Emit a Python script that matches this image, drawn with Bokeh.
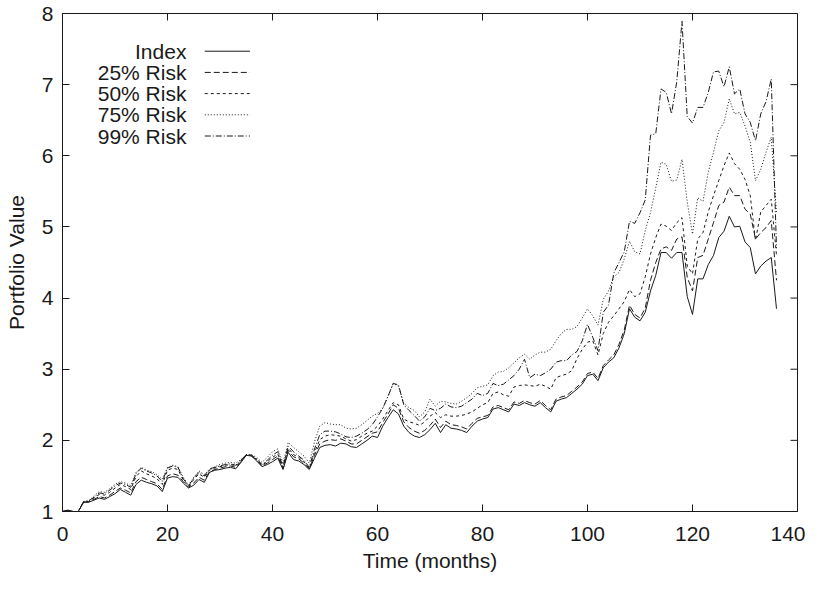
from bokeh.plotting import figure
from bokeh.models import Range1d, FixedTicker, Label, Arrow
from bokeh.embed import file_html
from bokeh.resources import INLINE

months = list(range(137))

index_vals = [
    1.00, 1.02, 1.00, 1.00, 1.13, 1.13, 1.16, 1.19, 1.17, 1.21,
    1.25, 1.31, 1.27, 1.23, 1.38, 1.44, 1.41, 1.39, 1.36, 1.28,
    1.47, 1.49, 1.48, 1.40, 1.33, 1.37, 1.45, 1.41, 1.55, 1.58,
    1.59, 1.61, 1.62, 1.60, 1.69, 1.79, 1.78, 1.71, 1.63, 1.66,
    1.70, 1.75, 1.59, 1.83, 1.73, 1.71, 1.66, 1.59, 1.75, 1.90,
    1.93, 1.94, 1.92, 1.96, 1.95, 1.91, 1.90, 1.95, 2.00, 2.06,
    2.04, 2.20, 2.32, 2.43, 2.37, 2.20, 2.11, 2.06, 2.04, 2.08,
    2.15, 2.24, 2.11, 2.22, 2.17, 2.16, 2.14, 2.11, 2.20, 2.27,
    2.30, 2.32, 2.44, 2.46, 2.43, 2.40, 2.51, 2.49, 2.53, 2.50,
    2.48, 2.53, 2.46, 2.40, 2.55, 2.58, 2.60, 2.66, 2.72, 2.79,
    2.91, 2.93, 2.84, 3.02, 3.10, 3.16, 3.30, 3.50, 3.85, 3.73,
    3.68, 3.80, 4.10, 4.32, 4.64, 4.64, 4.56, 4.64, 4.64, 4.02,
    3.77, 4.27, 4.27, 4.47, 4.60, 4.85, 4.94, 5.15, 5.00, 5.01,
    4.79, 4.71, 4.34, 4.45, 4.52, 4.57, 3.85,
]

risk25_vals = [
    1.00, 1.01, 1.00, 1.00, 1.13, 1.14, 1.17, 1.21, 1.19, 1.23,
    1.28, 1.33, 1.30, 1.26, 1.42, 1.48, 1.45, 1.42, 1.39, 1.31,
    1.50, 1.53, 1.51, 1.42, 1.34, 1.40, 1.48, 1.44, 1.56, 1.59,
    1.61, 1.63, 1.64, 1.62, 1.70, 1.79, 1.78, 1.72, 1.64, 1.68,
    1.73, 1.78, 1.60, 1.86, 1.77, 1.74, 1.68, 1.60, 1.79, 1.95,
    1.99, 2.01, 2.00, 2.02, 1.99, 1.95, 1.95, 2.00, 2.05, 2.10,
    2.12, 2.25, 2.37, 2.50, 2.45, 2.26, 2.18, 2.13, 2.10, 2.14,
    2.21, 2.30, 2.18, 2.27, 2.22, 2.21, 2.19, 2.16, 2.24, 2.31,
    2.33, 2.35, 2.47, 2.49, 2.46, 2.43, 2.54, 2.52, 2.56, 2.53,
    2.51, 2.56, 2.49, 2.43, 2.58, 2.61, 2.63, 2.69, 2.75, 2.82,
    2.94, 2.96, 2.87, 3.05, 3.13, 3.20, 3.35, 3.55, 3.90, 3.77,
    3.72, 3.86, 4.25, 4.50, 4.69, 4.72, 4.67, 4.83, 4.86, 4.29,
    4.10, 4.57, 4.60, 4.83, 5.06, 5.30, 5.35, 5.56, 5.44, 5.44,
    5.25, 5.18, 4.83, 4.92, 4.99, 5.09, 4.25,
]

risk50_vals = [
    1.00, 1.01, 1.00, 1.00, 1.13, 1.14, 1.19, 1.24, 1.23, 1.27,
    1.33, 1.38, 1.35, 1.31, 1.49, 1.57, 1.53, 1.50, 1.46, 1.38,
    1.58, 1.61, 1.59, 1.44, 1.35, 1.45, 1.53, 1.48, 1.58, 1.61,
    1.63, 1.65, 1.66, 1.64, 1.71, 1.80, 1.79, 1.73, 1.65, 1.70,
    1.76, 1.81, 1.62, 1.89, 1.80, 1.76, 1.70, 1.60, 1.83, 2.01,
    2.06, 2.08, 2.07, 2.06, 2.02, 1.99, 2.01, 2.06, 2.10, 2.13,
    2.20, 2.30, 2.42, 2.53, 2.50, 2.30, 2.26, 2.24, 2.21, 2.26,
    2.34, 2.39, 2.32, 2.36, 2.34, 2.34, 2.35, 2.37, 2.40, 2.45,
    2.50, 2.53, 2.66, 2.68, 2.64, 2.62, 2.75, 2.77, 2.78, 2.77,
    2.76, 2.79, 2.76, 2.72, 2.88, 2.91, 2.93, 2.98, 3.15, 3.28,
    3.38, 3.40, 3.20, 3.50, 3.66, 3.75, 3.85, 3.95, 4.12, 4.02,
    4.06, 4.30, 4.62, 4.85, 5.04, 5.01, 4.95, 5.06, 5.13, 4.45,
    4.34, 4.83, 4.92, 5.21, 5.44, 5.65, 5.86, 6.04, 5.89, 5.81,
    5.67, 5.44, 4.81, 5.21, 5.30, 5.39, 4.60,
]

risk75_vals = [
    1.00, 1.01, 1.00, 1.00, 1.14, 1.15, 1.22, 1.28, 1.27, 1.32,
    1.38, 1.42, 1.40, 1.36, 1.55, 1.62, 1.58, 1.56, 1.52, 1.45,
    1.62, 1.65, 1.63, 1.48, 1.37, 1.48, 1.57, 1.52, 1.58, 1.63,
    1.66, 1.68, 1.69, 1.68, 1.73, 1.80, 1.80, 1.76, 1.69, 1.76,
    1.84, 1.88, 1.68, 1.97, 1.90, 1.84, 1.78, 1.68, 1.98, 2.20,
    2.25, 2.23, 2.22, 2.22, 2.17, 2.16, 2.17, 2.22, 2.28, 2.34,
    2.38, 2.45, 2.62, 2.80, 2.76, 2.52, 2.46, 2.42, 2.33, 2.40,
    2.58, 2.48, 2.55, 2.54, 2.52, 2.51, 2.55, 2.60, 2.66, 2.74,
    2.76, 2.78, 2.91, 2.96, 2.97, 3.02, 3.09, 3.16, 3.21, 3.14,
    3.20, 3.24, 3.24, 3.28, 3.40, 3.50, 3.56, 3.56, 3.60, 3.72,
    3.85, 3.75, 3.62, 3.98, 4.10, 4.30, 4.36, 4.55, 4.80, 4.65,
    4.62, 4.95, 5.20, 5.55, 5.91, 5.88, 5.64, 5.66, 5.95, 5.35,
    4.90, 5.41, 5.36, 5.77, 6.05, 6.35, 6.47, 6.80, 6.59, 6.61,
    6.42, 6.19, 5.65, 5.81, 6.05, 6.26, 5.20,
]

risk99_vals = [
    1.00, 1.01, 1.00, 1.00, 1.14, 1.15, 1.20, 1.26, 1.25, 1.30,
    1.36, 1.40, 1.38, 1.34, 1.53, 1.61, 1.57, 1.54, 1.50, 1.42,
    1.61, 1.64, 1.62, 1.46, 1.36, 1.47, 1.55, 1.50, 1.60, 1.62,
    1.64, 1.66, 1.67, 1.65, 1.72, 1.80, 1.79, 1.74, 1.66, 1.72,
    1.79, 1.84, 1.63, 1.92, 1.84, 1.78, 1.72, 1.62, 1.88, 2.08,
    2.13, 2.13, 2.12, 2.09, 2.05, 2.04, 2.06, 2.10, 2.15, 2.22,
    2.33, 2.45, 2.62, 2.80, 2.78, 2.50, 2.42, 2.35, 2.27, 2.33,
    2.45, 2.42, 2.45, 2.51, 2.47, 2.46, 2.48, 2.53, 2.58, 2.66,
    2.63, 2.66, 2.80, 2.77, 2.79, 2.85, 2.91, 3.00, 3.14, 2.88,
    2.93, 2.91, 2.95, 3.00, 3.10, 3.12, 3.12, 3.20, 3.25, 3.40,
    3.63, 3.45, 3.26, 3.80, 3.90, 4.35, 4.50, 4.65, 5.08, 5.05,
    5.20, 5.38, 6.29, 6.31, 6.94, 6.89, 6.59, 7.04, 7.89, 6.55,
    6.46, 6.68, 6.68, 6.89, 7.18, 7.19, 6.97, 7.25, 6.87, 6.94,
    6.59, 6.47, 6.21, 6.59, 6.76, 7.08, 4.70,
]

series_names = ["Index", "25% Risk", "50% Risk", "75% Risk", "99% Risk"]
series_vals = [index_vals, risk25_vals, risk50_vals, risk75_vals, risk99_vals]
dashes = ["solid", "6 3", "3 3", "1 2", "6 2 1 2"]

x_ticks = [0, 20, 40, 60, 80, 100, 120, 140]
y_ticks = [1, 2, 3, 4, 5, 6, 7, 8]
x_lo, x_hi = 0, 140
y_lo, y_hi = 1, 8

FONT = "Liberation Sans"
FS = "21px"
INK = "#1a1a1a"
TICK_PX = 7

W, H = 805, 574
B_LEFT, B_RIGHT, B_TOP, B_BOTTOM = 62, 8, 13, 62

p = figure(width=W, height=H, output_backend="svg", toolbar_location=None,
           x_range=Range1d(x_lo, x_hi), y_range=Range1d(y_lo, y_hi),
           min_border_left=B_LEFT, min_border_right=B_RIGHT,
           min_border_top=B_TOP, min_border_bottom=B_BOTTOM)
p.background_fill_color = "white"
p.border_fill_color = "white"
p.grid.visible = False
p.outline_line_color = INK
p.outline_line_width = 1

for ax in (p.xaxis[0], p.yaxis[0]):
    ax.major_tick_in = TICK_PX
    ax.major_tick_out = 0
    ax.minor_tick_in = 0
    ax.minor_tick_out = 0
    ax.axis_line_color = INK
    ax.major_tick_line_color = INK
    ax.major_label_text_font = FONT
    ax.major_label_text_font_size = FS
    ax.major_label_text_color = INK
    ax.axis_label_text_font = FONT
    ax.axis_label_text_font_size = FS
    ax.axis_label_text_font_style = "normal"
    ax.axis_label_text_color = INK

p.xaxis.ticker = FixedTicker(ticks=x_ticks)
p.yaxis.ticker = FixedTicker(ticks=y_ticks)
p.xaxis.axis_label = "Time (months)"
p.yaxis.axis_label = "Portfolio Value"
p.xaxis.major_label_standoff = 15
p.xaxis.axis_label_standoff = 5
p.yaxis.major_label_standoff = 9
p.yaxis.axis_label_standoff = 11

# mirrored inward ticks on top and right edges of the frame
frame_w_px = W - B_LEFT - B_RIGHT
frame_h_px = H - B_TOP - B_BOTTOM
dy_tick = TICK_PX * (y_hi - y_lo) / frame_h_px
dx_tick = TICK_PX * (x_hi - x_lo) / frame_w_px
p.segment(x0=x_ticks, y0=[y_hi] * len(x_ticks), x1=x_ticks, y1=[y_hi - dy_tick] * len(x_ticks),
          line_color=INK, line_width=1)
p.segment(x0=[x_hi] * len(y_ticks), y0=y_ticks, x1=[x_hi - dx_tick] * len(y_ticks), y1=y_ticks,
          line_color=INK, line_width=1)

for name, vals, dash in zip(series_names, series_vals, dashes):
    p.line(months, vals, line_color=INK, line_width=1, line_dash=dash)

# legend (label left, sample right), placed in data space
leg_text_x = 23.6
leg_line_x0 = 27.1
leg_line_x1 = 35.7
leg_y0 = 7.47
leg_dy = 0.298
for i, (name, dash) in enumerate(zip(series_names, dashes)):
    yy = leg_y0 - i * leg_dy
    p.add_layout(Label(x=leg_text_x, y=yy, text=name, text_align="right",
                       text_baseline="middle", text_font=FONT, text_font_size=FS,
                       text_color=INK))
    p.add_layout(Arrow(end=None, x_start=leg_line_x0, y_start=yy, x_end=leg_line_x1, y_end=yy,
                       line_color=INK, line_width=1, line_dash=dash))

open("out.html", "w").write(file_html(p, INLINE))
